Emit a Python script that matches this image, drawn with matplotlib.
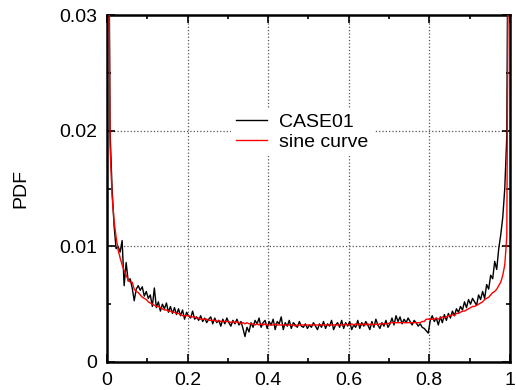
import numpy as np
import matplotlib
matplotlib.use("Agg")
from matplotlib import pyplot as plt
from matplotlib.ticker import MultipleLocator

plt.rcParams['font.family'] = ['Liberation Sans', 'DejaVu Sans']

# bin centres, 200 bins over [0, 1]
x = np.arange(200) * 0.005 + 0.0025

# values, in units of 1e-4
case01 = [520, 200, 150, 118, 98, 100, 95, 105, 66, 86,
          70, 72, 64, 53, 63, 66, 62, 65, 57, 61,
          55, 58, 48, 64, 47, 52, 44, 50, 46, 51,
          43, 48, 42, 47, 41, 46, 40, 45, 37, 43,
          40, 38, 44, 37, 39, 36, 40, 35, 38, 34,
          37, 39, 33, 38, 34, 36, 31, 37, 33, 38,
          34, 31, 36, 33, 37, 32, 35, 29, 22, 30,
          26, 34, 30, 36, 33, 38, 30, 34, 36, 29,
          35, 32, 37, 28, 35, 33, 39, 28, 34, 31,
          36, 29, 34, 32, 30, 35, 31, 30, 33, 29,
          32, 30, 34, 31, 28, 33, 30, 35, 29, 33,
          31, 36, 28, 32, 34, 30, 36, 29, 34, 31,
          35, 28, 32, 30, 36, 29, 34, 31, 35, 32,
          28, 35, 30, 37, 32, 29, 34, 31, 36, 30,
          33, 38, 32, 40, 35, 39, 33, 37, 34, 38,
          35, 32, 36, 34, 31, 33, 30, 29, 27, 25,
          36, 40, 35, 38, 32, 39, 34, 41, 36, 42,
          38, 44, 40, 46, 43, 48, 45, 52, 47, 54,
          50, 55, 52, 49, 58, 54, 61, 55, 67, 63,
          75, 72, 87, 80, 98, 110, 125, 150, 195, 520]

sine_curve = [450, 187, 144, 122, 108, 97, 90, 84, 79, 75,
              71, 69, 69, 63, 61, 60, 58, 56, 55, 54,
              52, 51, 50, 49, 48, 48, 47, 46, 45, 45,
              44, 44, 43, 43, 42, 42, 41, 40, 40, 40,
              40, 39, 39, 39, 38, 38, 37, 37, 37, 37,
              36, 36, 36, 36, 35, 36, 35, 35, 35, 35,
              35, 34, 35, 34, 35, 34, 33, 34, 33, 34,
              33, 33, 33, 32, 33, 32, 33, 32, 33, 32,
              32, 32, 32, 33, 32, 32, 32, 32, 32, 32,
              32, 32, 32, 31, 32, 32, 32, 32, 32, 32,
              32, 32, 32, 32, 32, 32, 32, 32, 32, 32,
              32, 32, 32, 32, 32, 32, 32, 32, 33, 32,
              32, 33, 32, 33, 32, 33, 32, 33, 32, 33,
              32, 33, 32, 33, 32, 33, 33, 33, 33, 33,
              34, 34, 34, 34, 34, 34, 34, 34, 34, 34,
              34, 34, 34, 34, 34, 34, 35, 35, 37, 37,
              37, 37, 37, 38, 37, 38, 39, 38, 39, 40,
              40, 41, 40, 42, 42, 43, 44, 44, 45, 46,
              47, 48, 48, 49, 50, 51, 52, 54, 55, 56,
              58, 60, 61, 63, 66, 69, 75, 84, 108, 450]

case01 = np.array(case01) * 1e-4
sine_curve = np.array(sine_curve) * 1e-4

xticks = [0, 0.2, 0.4, 0.6, 0.8, 1]
xticklabels = ['0', '0.2', '0.4', '0.6', '0.8', '1']
yticks = [0, 0.01, 0.02, 0.03]
yticklabels = ['0', '0.01', '0.02', '0.03']

fig = plt.figure(figsize=(5.16, 3.9), dpi=100)
ax = fig.add_axes([0.2074, 0.0718, 0.7806, 0.8897])

ax.plot(x, case01, color='black', lw=1.0, label='CASE01', zorder=3)
ax.plot(x, sine_curve, color='red', lw=1.0, label='sine curve', zorder=4)

ax.set_xlim(0, 1)
ax.set_ylim(0, 0.03)
ax.set_xticks(xticks)
ax.set_xticklabels(xticklabels)
ax.set_yticks(yticks)
ax.set_yticklabels(yticklabels)
ax.xaxis.set_minor_locator(MultipleLocator(0.1))
ax.yaxis.set_minor_locator(MultipleLocator(0.005))

ax.tick_params(which='both', direction='in', top=True, right=True,
               labelsize=14, width=1.2, colors='black')
ax.tick_params(which='major', length=6, pad=7)
ax.tick_params(which='minor', length=3)
for s in ax.spines.values():
    s.set_linewidth(1.8)

ax.grid(True, which='major', ls=':', color='#555555', lw=0.9)
ax.set_axisbelow(True)

ax.set_ylabel('PDF', fontsize=14)
ax.yaxis.set_label_coords(-0.193, 0.5)

leg = ax.legend(loc='center', bbox_to_anchor=(0.485, 0.663), frameon=True,
                fontsize=14, handlelength=1.6, handletextpad=0.6,
                labelspacing=0.1, borderpad=0.3, borderaxespad=0)
leg.get_frame().set_edgecolor('none')
leg.get_frame().set_facecolor('white')
leg.get_frame().set_alpha(1.0)
leg.get_frame().set_boxstyle('square', pad=0.0)
leg.set_zorder(5)

fig.savefig('out.png', dpi=100)
